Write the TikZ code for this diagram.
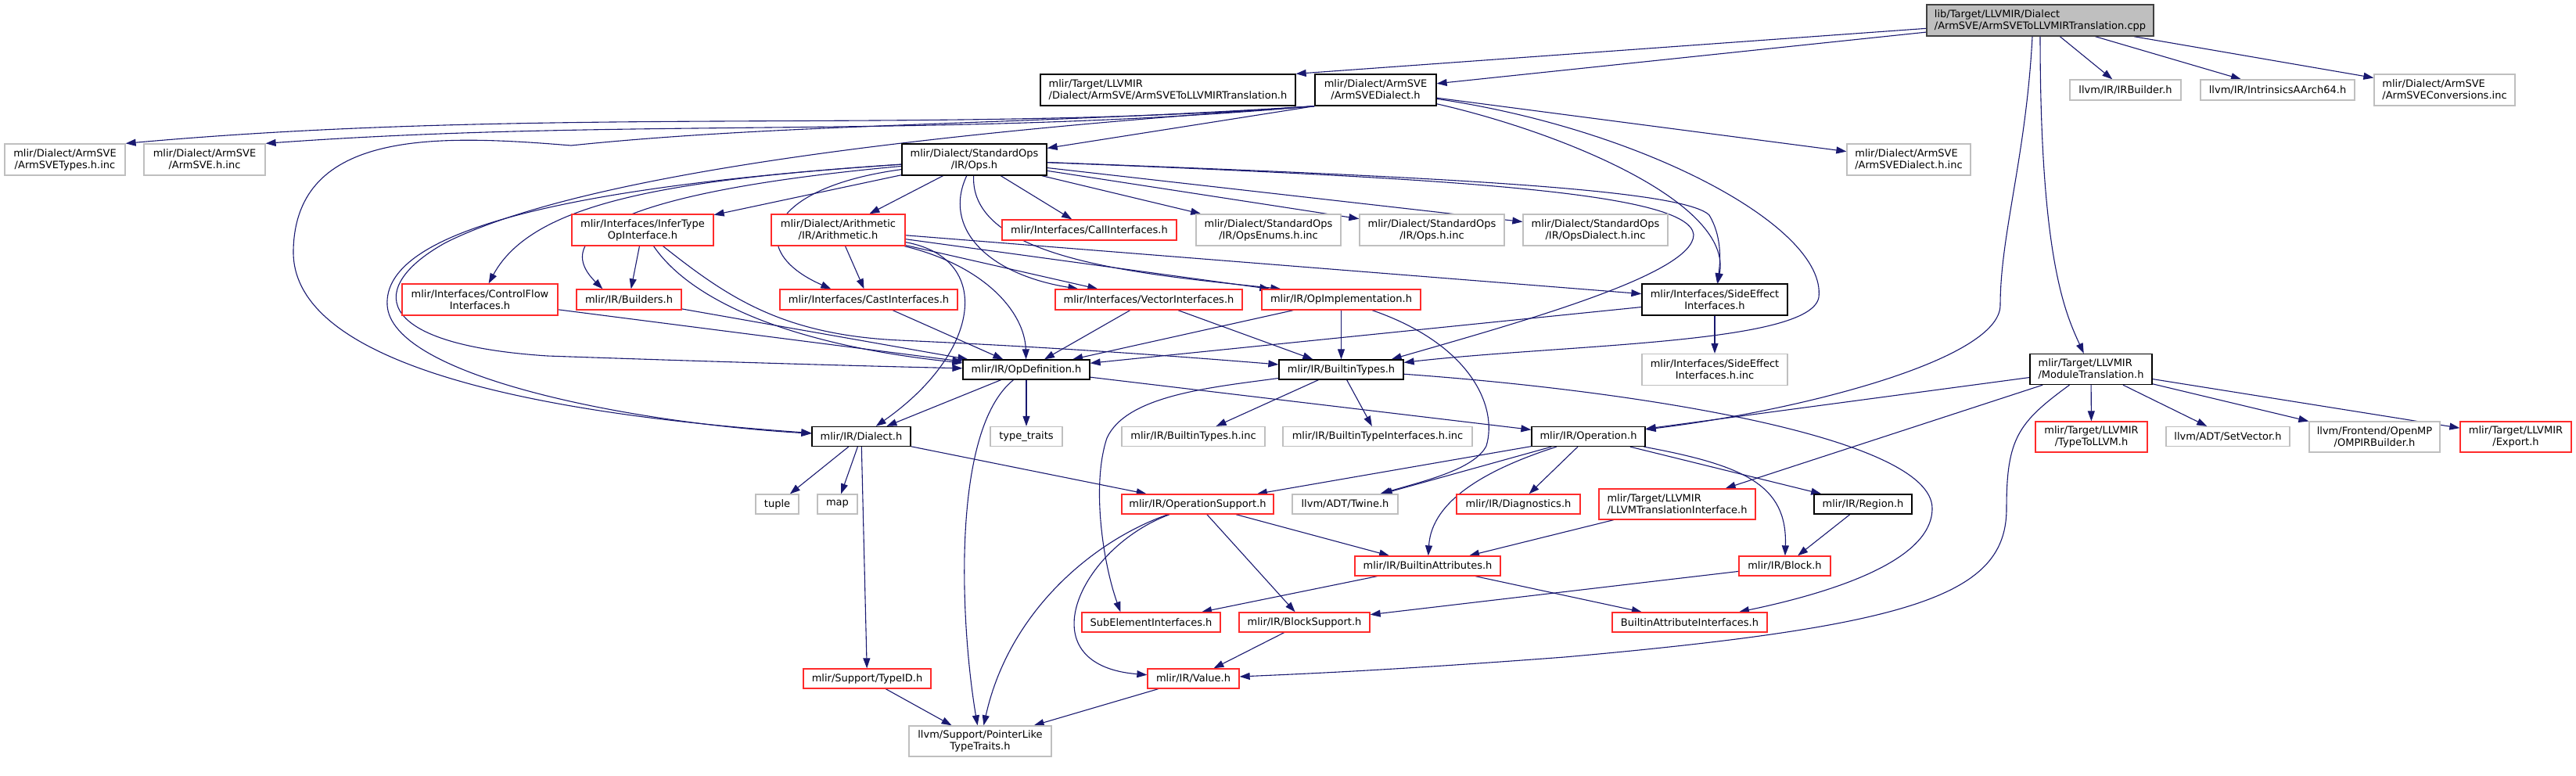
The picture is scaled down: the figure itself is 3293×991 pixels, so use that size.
\documentclass[tikz,border=0pt]{standalone}
\usepackage{fontspec}
\setmainfont{DejaVu Sans}
\usetikzlibrary{arrows.meta,backgrounds}
\definecolor{DoxEdge}{HTML}{191970}
\definecolor{DoxGrey}{HTML}{BFBFBF}
\definecolor{DoxDark}{HTML}{404040}
\definecolor{DoxRed}{HTML}{FF2B2B}
\tikzset{
  hbox/.style={rectangle,draw,line width=1.3pt,fill=white,inner sep=0pt,align=center,
    font=\fontsize{13pt}{15pt}\selectfont},
  docbox/.style={hbox,draw=black},
  truncbox/.style={hbox,draw=DoxRed},
  extbox/.style={hbox,draw=DoxGrey},
  rootbox/.style={hbox,draw=DoxDark,fill=DoxGrey},
  sz/.style 2 args={minimum width=#1pt,minimum height=#2pt},
  incl/.style={-{Triangle[length=13pt,width=9pt]},DoxEdge,line width=1.1pt},
}
\begin{document}
\begin{tikzpicture}[x=1pt,y=-1pt]
\useasboundingbox (0,0) rectangle (3293,991);
% files
\node[rootbox,sz={290}{40},align=left] (root) at (2608,26) {lib/Target/LLVMIR/Dialect\\/ArmSVE/ArmSVEToLLVMIRTranslation.cpp};
\node[docbox,sz={326}{40},align=left] (armtrans) at (1493,115) {mlir/Target/LLVMIR\\/Dialect/ArmSVE/ArmSVEToLLVMIRTranslation.h};
\node[docbox,sz={155}{40}] (armdialect) at (1758.5,115) {mlir/Dialect/ArmSVE\\/ArmSVEDialect.h};
\node[extbox,sz={142}{26}] (irbuilder) at (2717,115) {llvm/IR/IRBuilder.h};
\node[extbox,sz={197}{26}] (intrinsics) at (2911.5,115) {llvm/IR/IntrinsicsAArch64.h};
\node[extbox,sz={180}{40},align=left] (conversions) at (3125,115) {mlir/Dialect/ArmSVE\\/ArmSVEConversions.inc};
\node[extbox,sz={154}{40}] (armtypesinc) at (83,204) {mlir/Dialect/ArmSVE\\/ArmSVETypes.h.inc};
\node[extbox,sz={155}{40}] (armsveinc) at (261.5,204) {mlir/Dialect/ArmSVE\\/ArmSVE.h.inc};
\node[docbox,sz={185}{40}] (stdops) at (1245.5,204) {mlir/Dialect/StandardOps\\/IR/Ops.h};
\node[extbox,sz={158}{40},align=left] (dialectinc) at (2440,204) {mlir/Dialect/ArmSVE\\/ArmSVEDialect.h.inc};
\node[truncbox,sz={181}{40}] (infertype) at (821.5,294) {mlir/Interfaces/InferType\\OpInterface.h};
\node[truncbox,sz={171}{40}] (arith) at (1071.5,294) {mlir/Dialect/Arithmetic\\/IR/Arithmetic.h};
\node[truncbox,sz={223}{26}] (callif) at (1392.5,294) {mlir/Interfaces/CallInterfaces.h};
\node[extbox,sz={185}{40}] (opsenums) at (1621.5,294) {mlir/Dialect/StandardOps\\/IR/OpsEnums.h.inc};
\node[extbox,sz={185}{40}] (opsinc) at (1830.5,294) {mlir/Dialect/StandardOps\\/IR/Ops.h.inc};
\node[extbox,sz={185}{40}] (opsdialectinc) at (2039.5,294) {mlir/Dialect/StandardOps\\/IR/OpsDialect.h.inc};
\node[truncbox,sz={199}{40}] (controlflow) at (613.5,383) {mlir/Interfaces/ControlFlow\\Interfaces.h};
\node[truncbox,sz={134}{26}] (builders) at (804,383) {mlir/IR/Builders.h};
\node[truncbox,sz={227}{26}] (castif) at (1110.5,383) {mlir/Interfaces/CastInterfaces.h};
\node[truncbox,sz={239}{26}] (vectorif) at (1468.5,383) {mlir/Interfaces/VectorInterfaces.h};
\node[truncbox,sz={203}{26}] (opimpl) at (1714.5,383) {mlir/IR/OpImplementation.h};
\node[docbox,sz={186}{40}] (sideeffect) at (2192,383) {mlir/Interfaces/SideEffect\\Interfaces.h};
\node[docbox,sz={162}{25}] (opdef) at (1312,472.5) {mlir/IR/OpDefinition.h};
\node[docbox,sz={159}{25}] (builtintypes) at (1714.5,472.5) {mlir/IR/BuiltinTypes.h};
\node[extbox,sz={186}{40}] (sideeffectinc) at (2192,472.5) {mlir/Interfaces/SideEffect\\Interfaces.h.inc};
\node[docbox,sz={156}{39},align=left] (modtrans) at (2673,472) {mlir/Target/LLVMIR\\/ModuleTranslation.h};
\node[docbox,sz={126}{25}] (dialect) at (1101,558) {mlir/IR/Dialect.h};
\node[extbox,sz={92}{25}] (typetraits) at (1312,558) {type\_traits};
\node[extbox,sz={183}{25}] (btinc) at (1525.5,558) {mlir/IR/BuiltinTypes.h.inc};
\node[extbox,sz={242}{25}] (btifinc) at (1761,558) {mlir/IR/BuiltinTypeInterfaces.h.inc};
\node[docbox,sz={145}{25}] (operation) at (2030.5,558) {mlir/IR/Operation.h};
\node[truncbox,sz={143}{39}] (typetollvm) at (2673.5,558.5) {mlir/Target/LLVMIR\\/TypeToLLVM.h};
\node[extbox,sz={158}{25}] (setvector) at (2848,558) {llvm/ADT/SetVector.h};
\node[extbox,sz={167}{39}] (ompir) at (3035.5,558.5) {llvm/Frontend/OpenMP\\/OMPIRBuilder.h};
\node[truncbox,sz={142}{39}] (export) at (3216,558.5) {mlir/Target/LLVMIR\\/Export.h};
\node[extbox,sz={55}{25}] (tuple) at (993.5,644.5) {tuple};
\node[extbox,sz={51}{25}] (map) at (1070.5,644.5) {map};
\node[truncbox,sz={194}{25}] (opsupport) at (1531,644.5) {mlir/IR/OperationSupport.h};
\node[extbox,sz={135}{25}] (twine) at (1719.5,644.5) {llvm/ADT/Twine.h};
\node[truncbox,sz={158}{25}] (diagnostics) at (1941,644.5) {mlir/IR/Diagnostics.h};
\node[truncbox,sz={200}{39},align=left] (llvmtransif) at (2144,644.5) {mlir/Target/LLVMIR\\/LLVMTranslationInterface.h};
\node[docbox,sz={125}{25}] (region) at (2381.5,644.5) {mlir/IR/Region.h};
\node[truncbox,sz={186}{25}] (builtinattrs) at (1825,723.5) {mlir/IR/BuiltinAttributes.h};
\node[truncbox,sz={117}{25}] (block) at (2281.5,723.5) {mlir/IR/Block.h};
\node[truncbox,sz={177}{25}] (subelement) at (1471.5,795.5) {SubElementInterfaces.h};
\node[truncbox,sz={167}{25}] (blocksupport) at (1667.5,795.5) {mlir/IR/BlockSupport.h};
\node[truncbox,sz={198}{25}] (battrif) at (2160,795.5) {BuiltinAttributeInterfaces.h};
\node[truncbox,sz={163}{25}] (typeid) at (1108.5,867.5) {mlir/Support/TypeID.h};
\node[truncbox,sz={117}{25}] (value) at (1525.5,867.5) {mlir/IR/Value.h};
\node[extbox,sz={182}{39}] (pointerlike) at (1253,947.5) {llvm/Support/PointerLike\\TypeTraits.h};

\begin{scope}[on background layer]
% includes of the translation unit
\draw[incl] (root) -- (armtrans.north east);
\draw[incl] (root) -- (armdialect);
\draw[incl] (root) -- (irbuilder);
\draw[incl] (root) -- (intrinsics);
\draw[incl] (root) -- (conversions);
\draw[incl] (root.south) .. controls (2608,330) and (2640,400) .. (modtrans);
\draw[incl] ([xshift=-10pt]root.south) .. controls (2590,200) and (2557,300) .. (2557,390)
  .. controls (2557,460) and (2300,525) .. (operation);
% ArmSVEDialect.h
\draw[incl] (armdialect.south west) .. controls (1200,172) and (700,135) .. (armtypesinc.north east);
\draw[incl] (armdialect.south west) .. controls (1200,178) and (800,150) .. (armsveinc.north east);
\draw[incl] (armdialect.south west) -- (stdops);
\draw[incl] (armdialect) -- (dialectinc);
\draw[incl] (armdialect) .. controls (2000,170) and (2215,260) .. (sideeffect);
\draw[incl] (armdialect) .. controls (2100,165) and (2335,290) .. (2325,380)
  .. controls (2315,440) and (2000,440) .. (builtintypes);
\draw[incl] (armdialect.south west) .. controls (1300,160) and (1000,158) .. (730,186)
  .. controls (560,172) and (378,165) .. (375,320) .. controls (372,470) and (700,530) .. (dialect);
\draw[incl] (armdialect.south west) .. controls (1250,165) and (760,215) .. (570,310)
  .. controls (470,365) and (470,440) .. (700,455) .. controls (900,462) and (1100,468) .. (opdef);
% StandardOps/IR/Ops.h
\draw[incl] (stdops) -- (infertype);
\draw[incl] (stdops) -- (arith);
\draw[incl] (stdops) -- (callif);
\draw[incl] (stdops) -- (opsenums);
\draw[incl] (stdops) -- (opsinc);
\draw[incl] (stdops) -- (opsdialectinc);
\draw[incl] (stdops) .. controls (850,230) and (680,260) .. (controlflow);
\draw[incl] (stdops) .. controls (850,240) and (690,290) .. ([xshift=34pt]builders.north west);
\draw[incl] (stdops) .. controls (980,240) and (950,320) .. ([xshift=66pt]castif.north west);
\draw[incl] (stdops) .. controls (1205,290) and (1260,350) .. ([xshift=30pt]vectorif.north west);
\draw[incl] (stdops) .. controls (1240,330) and (1450,350) .. ([xshift=25pt]opimpl.north west);
\draw[incl] (stdops) .. controls (1800,225) and (2150,240) .. (2185,275)
  .. controls (2200,300) and (2200,330) .. (sideeffect);
\draw[incl] (stdops) .. controls (1850,228) and (2160,245) .. (2165,300)
  .. controls (2165,350) and (1950,410) .. ([xshift=-16pt]builtintypes.north east);
\draw[incl] (stdops) .. controls (700,240) and (490,300) .. (495,390)
  .. controls (500,480) and (800,540) .. (dialect);
% interfaces
\draw[incl] (infertype) -- (builders);
\draw[incl] (infertype) .. controls (880,380) and (1000,440) .. (opdef);
\draw[incl] (infertype) .. controls (930,380) and (1000,428) .. (1150,435)
  .. controls (1350,444) and (1500,455) .. (builtintypes);
\draw[incl] (arith) -- (castif);
\draw[incl] (arith) .. controls (1270,330) and (1255,450) .. (dialect);
\draw[incl] (arith) .. controls (1260,340) and (1310,400) .. (opdef);
\draw[incl] (arith) -- ([xshift=55pt]vectorif.north west);
\draw[incl] (arith) -- ([xshift=11pt]opimpl.north west);
\draw[incl] (arith) -- (sideeffect);
\draw[incl] (controlflow) -- (opdef);
\draw[incl] (builders) -- (opdef);
\draw[incl] (castif) -- (opdef);
\draw[incl] (vectorif) -- (opdef);
\draw[incl] (vectorif) -- (builtintypes);
\draw[incl] (opimpl) -- (opdef);
\draw[incl] (opimpl) -- (builtintypes);
\draw[incl] (opimpl) .. controls (1880,440) and (1915,520) .. (1900,570)
  .. controls (1885,600) and (1820,615) .. (twine);
\draw[incl] (sideeffect) -- (opdef);
\draw[incl] (sideeffect) -- (sideeffectinc);
% IR core
\draw[incl] (opdef) -- (dialect);
\draw[incl] (opdef) -- (typetraits);
\draw[incl] (opdef) .. controls (1215,550) and (1228,800) .. (pointerlike);
\draw[incl] (opdef) -- (operation);
\draw[incl] (builtintypes) -- (btinc);
\draw[incl] (builtintypes) -- (btifinc);
\draw[incl] (builtintypes) .. controls (1550,495) and (1440,505) .. (1415,560)
  .. controls (1395,620) and (1410,720) .. ([xshift=50pt]subelement.north west);
\draw[incl] (builtintypes) .. controls (2100,500) and (2470,560) .. (2470,650)
  .. controls (2470,720) and (2330,760) .. (battrif);
\draw[incl] (dialect) -- (tuple);
\draw[incl] (dialect) -- (map);
\draw[incl] (dialect) -- (typeid);
\draw[incl] (dialect) -- (opsupport);
\draw[incl] (operation) -- (opsupport);
\draw[incl] (operation) -- (twine);
\draw[incl] (operation) -- (diagnostics);
\draw[incl] (operation) .. controls (1900,600) and (1830,640) .. (builtinattrs);
\draw[incl] (operation) -- (region);
\draw[incl] (operation) .. controls (2230,595) and (2285,620) .. (block);
% ModuleTranslation.h
\draw[incl] (modtrans) -- (operation);
\draw[incl] (modtrans) -- (llvmtransif);
\draw[incl] (modtrans) -- (typetollvm);
\draw[incl] (modtrans) -- (setvector);
\draw[incl] (modtrans) -- (ompir);
\draw[incl] (modtrans) -- (export);
\draw[incl] (modtrans) .. controls (2580,540) and (2565,560) .. (2565,650)
  .. controls (2565,760) and (2450,800) .. (2000,840) .. controls (1800,855) and (1700,860) .. (value);
% lower levels
\draw[incl] (opsupport) -- (builtinattrs);
\draw[incl] (opsupport) -- (blocksupport);
\draw[incl] (opsupport) .. controls (1380,700) and (1310,850) .. (value);
\draw[incl] (opsupport) .. controls (1400,690) and (1290,780) .. (pointerlike);
\draw[incl] (builtinattrs) -- (subelement);
\draw[incl] (builtinattrs) -- (battrif);
\draw[incl] (llvmtransif) -- (builtinattrs);
\draw[incl] (region) -- (block);
\draw[incl] (block) -- (blocksupport);
\draw[incl] (blocksupport) -- (value);
\draw[incl] (typeid) -- (pointerlike);
\draw[incl] (value) -- (pointerlike);
\end{scope}
\end{tikzpicture}
\end{document}
